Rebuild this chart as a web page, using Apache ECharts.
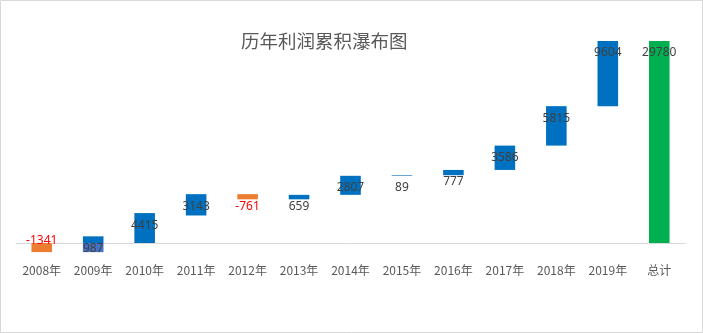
<!DOCTYPE html>
<html>
<head>
<meta charset="utf-8">
<script src="https://cdn.jsdelivr.net/npm/echarts@6/dist/echarts.min.js"></script>
<style>
html,body{margin:0;padding:0;background:#fff;}
#c{width:703px;height:333px;}
</style>
</head>
<body>
<div id="c"></div>
<script>
var categories = ['2008年','2009年','2010年','2011年','2012年','2013年','2014年','2015年','2016年','2017年','2018年','2019年','总计'];
var profits = [-1341, 987, 4415, 3143, -761, 659, 2807, 89, 777, 3586, 5815, 9604];
var totalValue = 29780;

// Build Excel-like stacked waterfall parts
var baseData = [], posData = [], negData = [], totData = [];
var prev = 0;
profits.forEach(function (v, i) {
  var base, pos = '-', neg = '-';
  if (v >= 0) {
    base = prev;
    pos = v;
  } else {
    if (prev + v >= 0) { base = prev + v; neg = -v; }
    else { base = prev; neg = v; }
  }
  baseData.push(base);
  posData.push(pos);
  negData.push(neg);
  totData.push('-');
  prev += v;
});
baseData.push(0); posData.push('-'); negData.push('-'); totData.push(totalValue);

var baseItems = baseData.map(function (b, i) {
  // second point sits on a negative running sum; Excel shows its base filled
  if (i > 0 && b < 0 && profits[i] > 0 && baseData[i - 1] === 0) {
    return { value: b, itemStyle: { color: '#4472C4' } };
  }
  return { value: b, itemStyle: { color: 'rgba(0,0,0,0)' } };
});

var negItems = negData.map(function (v, i) {
  if (v === '-') return v;
  var item = { value: v };
  if (v < 0) {
    item.label = { position: 'top', distance: -4 };
  }
  return item;
});

var lbl = {
  show: true,
  position: 'insideTop',
  distance: 6,
  fontSize: 12,
  fontFamily: 'Noto Sans, sans-serif',
  color: '#404040'
};

var chart = echarts.init(document.getElementById('c'), null, { renderer: 'canvas' });
chart.setOption({
  animation: false,
  backgroundColor: '#fff',
  title: {
    text: '历年利润累积瀑布图',
    left: 236,
    top: 27,
    textStyle: { fontFamily: 'Noto Sans CJK SC', fontWeight: 'normal', fontSize: 18.5, color: '#595959' }
  },
  graphic: [{
    type: 'rect',
    shape: { x: 0.5, y: 0.5, width: 702, height: 332 },
    style: { fill: 'none', stroke: '#D9D9D9', lineWidth: 1 },
    silent: true, z: 100
  }],
  grid: { left: 16, right: 18, top: 39.5, bottom: 76.4 },
  xAxis: {
    type: 'category',
    data: categories,
    axisLine: { onZero: true, lineStyle: { color: '#D9D9D9', width: 1 } },
    axisTick: { show: false },
    axisLabel: { color: '#595959', fontSize: 12, margin: 8, fontFamily: 'Noto Sans CJK SC', interval: 0 }
  },
  yAxis: {
    type: 'value',
    min: -2000,
    max: 30000,
    show: false,
    splitLine: { show: false }
  },
  series: [
    {
      name: 'base', type: 'bar', stack: 'w', barWidth: '40%', clip: false,
      data: baseItems, label: { show: false }, silent: true
    },
    {
      name: 'pos', type: 'bar', stack: 'w', barWidth: '40%', clip: false,
      itemStyle: { color: '#0070C0' },
      data: posData,
      label: lbl
    },
    {
      name: 'neg', type: 'bar', stack: 'w', barWidth: '40%', clip: false,
      itemStyle: { color: '#ED7D31' },
      data: negItems,
      label: Object.assign({}, lbl, {
        color: '#FF0000',
        formatter: function (p) { return '-' + Math.abs(p.value); }
      })
    },
    {
      name: 'total', type: 'bar', stack: 'w', barWidth: '40%', clip: false,
      itemStyle: { color: '#00B050' },
      data: totData,
      label: lbl
    }
  ]
});
</script>
</body>
</html>
